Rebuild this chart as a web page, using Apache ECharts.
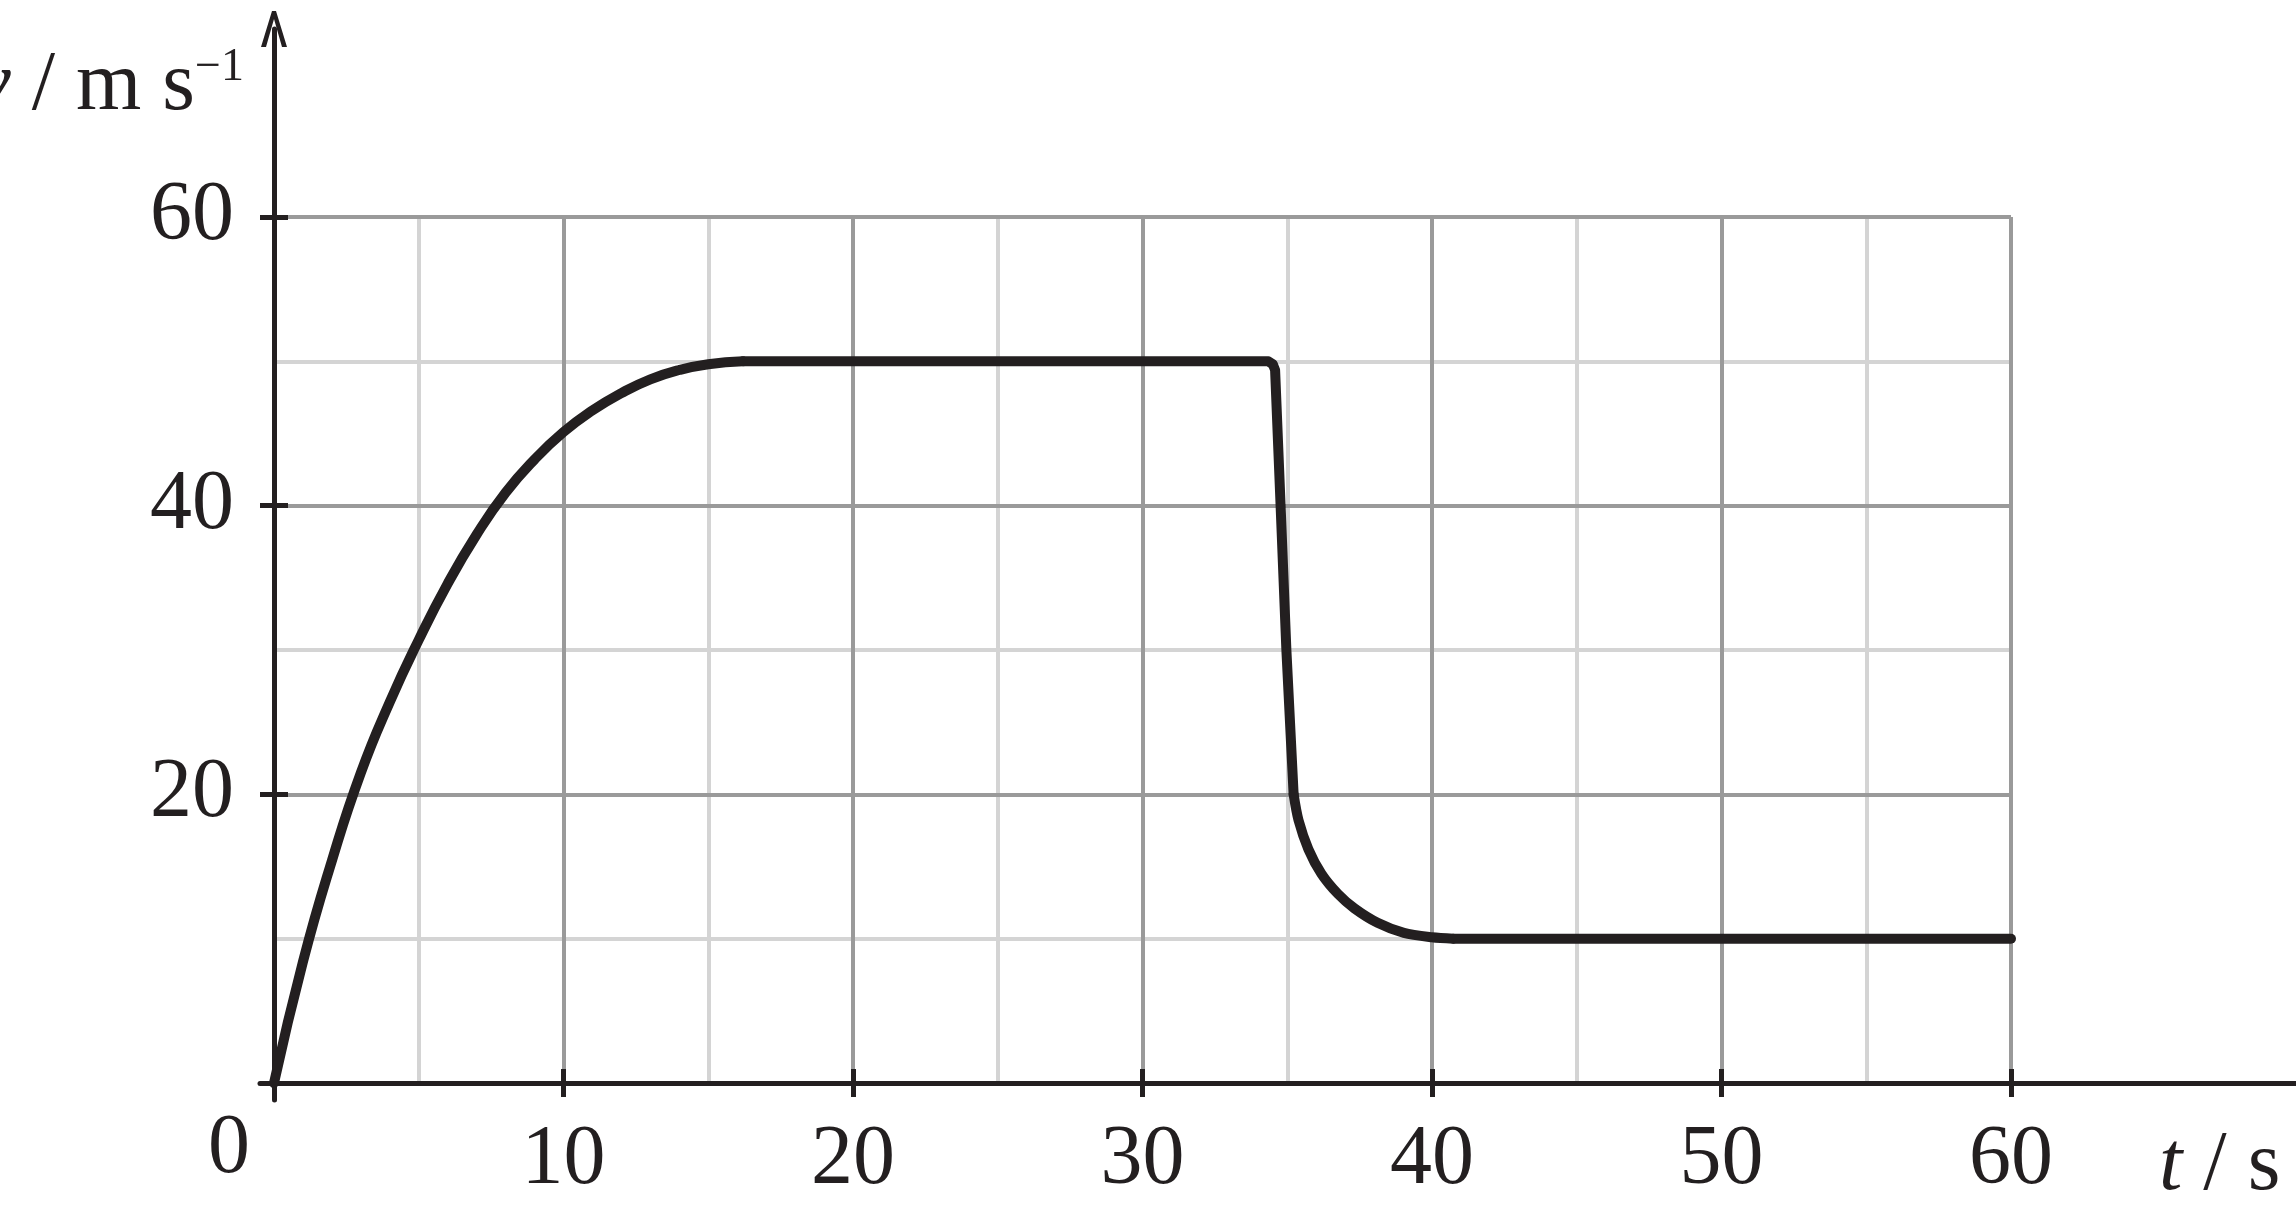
<!DOCTYPE html>
<html>
<head>
<meta charset="utf-8">
<script src="https://cdn.jsdelivr.net/npm/echarts@6/dist/echarts.min.js"></script>
<style>
  html, body { margin: 0; padding: 0; background: #fff; }
  #chart { width: 2296px; height: 1232px; }
</style>
</head>
<body>
<div id="chart"></div>
<script>
// velocity-time curve (t in s, v in m/s)
var riseT = [0, 1, 2, 3, 4, 5, 6, 7, 8, 9, 10, 11, 12, 13, 14, 15, 16.2];
var riseV = [0, 8.4, 15.4, 21.5, 26.4, 30.7, 34.6, 38.0, 40.9, 43.2, 45.1, 46.6, 47.8, 48.75, 49.4, 49.8, 50];
var dropT = [16.2, 34.35, 34.5, 34.58, 34.77, 34.97, 35.22];
var dropV = [50, 50, 49.8, 49.4, 40, 30, 20];
var decayT = [35.22, 35.39, 35.73, 36.18, 36.75, 37.32, 38.12, 39.03, 40.0, 40.74];
var decayV = [20, 18.2, 16.2, 14.5, 13.1, 12.1, 11.1, 10.4, 10.1, 10];
var tailT = [40.74, 60];
var tailV = [10, 10];

var xTicks = [0, 10, 20, 30, 40, 50, 60];
var yTicks = [0, 20, 40, 60];

var INK = "#231f20";
var FONT = "Liberation Serif";

// pixel frame of the 0..60 box
var W = 2296, H = 1232;
var X0 = 274, X60 = 2011, Y0 = 1083, Y60 = 217;
var pxX = (X60 - X0) / 60;
var pxY = (Y0 - Y60) / 60;

function pairs(ts, vs) {
  var out = [];
  for (var i = 0; i < ts.length; i++) {
    out.push([ts[i], vs[i]]);
  }
  return out;
}

var chart = echarts.init(document.getElementById("chart"), null, { renderer: "canvas" });

var lineStyle = { color: INK, width: 10, cap: "round", join: "round" };

function curve(name, ts, vs, smooth) {
  return {
    name: name,
    type: "line",
    xAxisIndex: 0,
    yAxisIndex: 0,
    data: pairs(ts, vs),
    smooth: smooth,
    symbol: "none",
    lineStyle: lineStyle,
    z: 5
  };
}

var option = {
  backgroundColor: "#ffffff",
  animation: false,
  grid: [
    { left: X0, top: Y60, width: X60 - X0, height: Y0 - Y60, outerBoundsMode: "none", containLabel: false },
    { left: 260, right: 0, top: 29, bottom: H - 1100, outerBoundsMode: "none", containLabel: false }
  ],
  xAxis: [
    {
      // main: labels, outer ticks, major grid
      type: "value",
      gridIndex: 0,
      position: "bottom",
      min: xTicks[0],
      max: xTicks[xTicks.length - 1],
      interval: 10,
      z: 2,
      axisLine: { show: false, onZero: false },
      axisTick: { show: true, length: 14, lineStyle: { color: INK, width: 5 } },
      axisLabel: {
        margin: 36,
        fontFamily: FONT,
        fontSize: 84,
        lineHeight: 84,
        color: INK,
        formatter: function (v) {
          return v === 0 ? "{z|0}" : String(v);
        },
        rich: {
          z: { fontFamily: FONT, fontSize: 84, lineHeight: 62, color: INK, padding: [0, 90, 0, 0] }
        }
      },
      splitLine: { show: true, lineStyle: { color: "#9a9a9a", width: 4 } },
      name: "{i|t} / s",
      nameLocation: "end",
      nameGap: 148,
      nameTextStyle: {
        fontFamily: FONT,
        fontSize: 84,
        lineHeight: 84,
        color: INK,
        align: "left",
        verticalAlign: "middle",
        padding: [168, 0, 0, 0],
        rich: { i: { fontFamily: FONT, fontSize: 84, fontStyle: "italic", color: INK } }
      }
    },
    {
      // minor grid every 5 s
      type: "value",
      gridIndex: 0,
      position: "bottom",
      min: 0,
      max: 60,
      interval: 5,
      z: 0,
      axisLine: { show: false, onZero: false },
      axisTick: { show: false },
      axisLabel: { show: false },
      splitLine: { show: true, lineStyle: { color: "#d4d4d4", width: 4 } }
    },
    {
      // inner half of the ticks
      type: "value",
      gridIndex: 0,
      position: "bottom",
      min: 0,
      max: 60,
      interval: 10,
      z: 3,
      axisLine: { show: false, onZero: false },
      axisTick: { show: true, inside: true, length: 14, lineStyle: { color: INK, width: 5 } },
      axisLabel: { show: false },
      splitLine: { show: false }
    },
    {
      // long t axis
      type: "value",
      gridIndex: 1,
      min: -(X0 - 260) / pxX,
      max: (W - X0) / pxX,
      z: 4,
      axisLine: { show: true, onZero: true, lineStyle: { color: INK, width: 5 } },
      axisTick: { show: false },
      axisLabel: { show: false },
      splitLine: { show: false }
    }
  ],
  yAxis: [
    {
      type: "value",
      gridIndex: 0,
      position: "left",
      min: yTicks[0],
      max: yTicks[yTicks.length - 1],
      interval: 20,
      z: 2,
      axisLine: { show: false, onZero: false },
      axisTick: { show: true, length: 14, lineStyle: { color: INK, width: 5 } },
      axisLabel: {
        margin: 40,
        fontFamily: FONT,
        fontSize: 84,
        color: INK,
        formatter: function (v) {
          return v === 0 ? "" : String(v);
        }
      },
      splitLine: { show: true, lineStyle: { color: "#9a9a9a", width: 4 } },
      name: "{i|v} / m s{s|\u22121}",
      nameLocation: "end",
      nameGap: 130,
      nameTextStyle: {
        fontFamily: FONT,
        fontSize: 84,
        lineHeight: 84,
        color: INK,
        align: "right",
        verticalAlign: "middle",
        padding: [0, 30, 0, 0],
        rich: {
          i: { fontFamily: FONT, fontSize: 84, fontStyle: "italic", color: INK },
          s: { fontFamily: FONT, fontSize: 46, lineHeight: 46, verticalAlign: "top", color: INK }
        }
      }
    },
    {
      type: "value",
      gridIndex: 0,
      position: "left",
      min: 0,
      max: 60,
      interval: 10,
      z: 0,
      axisLine: { show: false, onZero: false },
      axisTick: { show: false },
      axisLabel: { show: false },
      splitLine: { show: true, lineStyle: { color: "#d4d4d4", width: 4 } }
    },
    {
      type: "value",
      gridIndex: 0,
      position: "left",
      min: 0,
      max: 60,
      interval: 20,
      z: 3,
      axisLine: { show: false, onZero: false },
      axisTick: { show: true, inside: true, length: 14, lineStyle: { color: INK, width: 5 } },
      axisLabel: { show: false },
      splitLine: { show: false }
    },
    {
      // long v axis with open arrow head
      type: "value",
      gridIndex: 1,
      min: -(1100 - Y0) / pxY,
      max: (Y0 - 29) / pxY,
      z: 4,
      axisLine: {
        show: true,
        onZero: true,
        lineStyle: { color: INK, width: 5 },
        symbol: ["none", "path://M0,36 L11,0 L15,0 L26,36 L21,36 L13,8 L5,36 Z"],
        symbolSize: [26, 36]
      },
      axisTick: { show: false },
      axisLabel: { show: false },
      splitLine: { show: false }
    }
  ],
  series: [
    curve("rise", riseT, riseV, 0.5),
    curve("drop", dropT, dropV, false),
    curve("decay", decayT, decayV, 0.3),
    curve("tail", tailT, tailV, false)
  ]
};

chart.setOption(option);
</script>
</body>
</html>
